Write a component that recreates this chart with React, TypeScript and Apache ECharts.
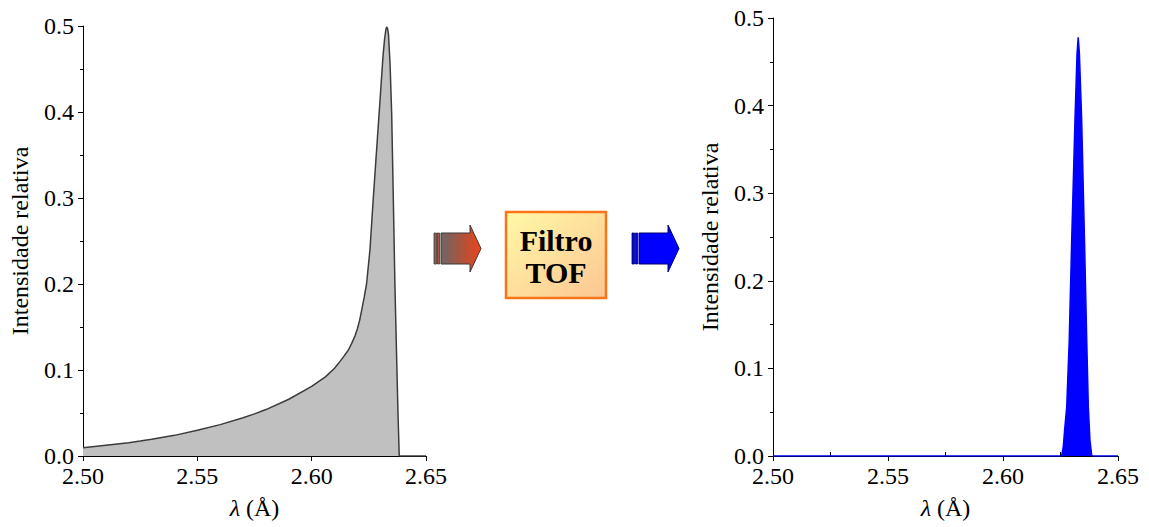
import React, { useEffect, useRef } from "react";
import * as echarts from "echarts";

// Incident spectrum (grey) — wavelength in Å and relative intensity
const lambdaIn = [
  2.5, 2.51, 2.52, 2.525, 2.53, 2.54, 2.55, 2.56, 2.57, 2.575, 2.58, 2.59, 2.6,
  2.606, 2.61, 2.6124, 2.6138, 2.616, 2.6175, 2.619, 2.62, 2.621, 2.6219, 2.623,
  2.624, 2.6255, 2.6269, 2.6285, 2.6299, 2.6312, 2.6319, 2.6324, 2.6328, 2.6332,
  2.6336, 2.6343, 2.635, 2.6357, 2.6364, 2.6372, 2.6378, 2.6383, 2.65,
];
const intensityIn = [
  0.0095, 0.0125, 0.0155, 0.0174, 0.0195, 0.024, 0.03, 0.0365, 0.0445, 0.049,
  0.054, 0.066, 0.081, 0.092, 0.102, 0.11, 0.115, 0.123, 0.131, 0.14, 0.148,
  0.158, 0.17, 0.185, 0.2, 0.24, 0.298, 0.36, 0.414, 0.465, 0.485, 0.495, 0.499,
  0.497, 0.49, 0.455, 0.397, 0.3, 0.2, 0.11, 0.045, 0.0, 0.0,
];

// Filtered spectrum (blue)
const lambdaOut = [
  2.5, 2.6255, 2.6262, 2.6268, 2.6277, 2.6288, 2.6299, 2.6313, 2.6322, 2.6327,
  2.6332, 2.6342, 2.6354, 2.6364, 2.6371, 2.6378, 2.6386, 2.65,
];
const intensityOut = [
  0.0, 0.0, 0.01, 0.03, 0.056, 0.132, 0.25, 0.384, 0.46, 0.478, 0.46, 0.384,
  0.25, 0.132, 0.056, 0.018, 0.0, 0.0,
];

const xTicks = { min: 2.5, max: 2.65, step: 0.05 };
const yTicks = { min: 0, max: 0.5, step: 0.1 };

const SERIF = '"Times New Roman", "Liberation Serif", serif';
const FS = 24;

const pairs = (xs: number[], ys: number[]) => xs.map((x, i) => [x, ys[i]]);

function xAxisFor(gridIndex: number) {
  return {
    type: "value",
    gridIndex,
    min: xTicks.min,
    max: xTicks.max,
    interval: xTicks.step,
    axisLine: { show: true, onZero: false, lineStyle: { color: "#000", width: 1 } },
    axisTick: { show: true, length: 5, lineStyle: { color: "#000" } },
    minorTick: { show: true, splitNumber: 2, length: -4, lineStyle: { color: "#000" } },
    splitLine: { show: false },
    axisLabel: {
      color: "#000",
      fontFamily: SERIF,
      fontSize: FS,
      margin: 8,
      formatter: (v: number) => v.toFixed(2),
    },
    name: "{i|λ} (Å)",
    nameLocation: "middle",
    nameGap: 40,
    nameTextStyle: {
      color: "#000",
      fontFamily: SERIF,
      fontSize: FS,
      rich: { i: { fontStyle: "italic", fontFamily: SERIF, fontSize: FS, color: "#000" } },
    },
  };
}

function yAxisFor(gridIndex: number) {
  return {
    type: "value",
    gridIndex,
    min: yTicks.min,
    max: yTicks.max,
    interval: yTicks.step,
    axisLine: { show: true, lineStyle: { color: "#000", width: 1 } },
    axisTick: { show: true, length: 5, lineStyle: { color: "#000" } },
    minorTick: { show: true, splitNumber: 2, length: 3, lineStyle: { color: "#000" } },
    splitLine: { show: false },
    axisLabel: {
      color: "#000",
      fontFamily: SERIF,
      fontSize: FS,
      margin: 9,
      formatter: (v: number) => v.toFixed(1),
    },
    name: "Intensidade relativa",
    nameLocation: "middle",
    nameGap: 51,
    nameTextStyle: { color: "#000", fontFamily: SERIF, fontSize: FS },
  };
}

// Block arrow with two thin stripes at the tail
function stripedArrow(x0: number, cy: number, fill: any, stroke: string) {
  const shaftTop = cy - 15.5;
  const shaftBot = cy + 15.5;
  const headTop = cy - 23.5;
  const headBot = cy + 23.5;
  const shaftStart = x0 + 7;
  const headStart = x0 + 36;
  const tip = x0 + 47;
  return {
    type: "group",
    children: [
      {
        type: "rect",
        shape: { x: x0, y: shaftTop, width: 2.5, height: shaftBot - shaftTop },
        style: { fill, stroke, lineWidth: 0.8 },
      },
      {
        type: "rect",
        shape: { x: x0 + 3.5, y: shaftTop, width: 2, height: shaftBot - shaftTop },
        style: { fill, stroke, lineWidth: 0.8 },
      },
      {
        type: "polygon",
        shape: {
          points: [
            [shaftStart, shaftTop],
            [headStart, shaftTop],
            [headStart, headTop],
            [tip, cy],
            [headStart, headBot],
            [headStart, shaftBot],
            [shaftStart, shaftBot],
          ],
        },
        style: { fill, stroke, lineWidth: 1 },
      },
    ],
  };
}

export default function App() {
  const ref = useRef<HTMLDivElement>(null);

  useEffect(() => {
    if (!ref.current) return;
    const chart = echarts.init(ref.current, null, { renderer: "svg" });

    const redFill = new echarts.graphic.LinearGradient(0, 0, 1, 0, [
      { offset: 0, color: "#6e6666" },
      { offset: 0.55, color: "#b0523a" },
      { offset: 1, color: "#ee4418" },
    ]);
    const boxFill = new echarts.graphic.LinearGradient(0, 0, 1, 1, [
      { offset: 0, color: "#fff9a6" },
      { offset: 1, color: "#fdc593" },
    ]);

    chart.setOption({
      animation: false,
      backgroundColor: "#fff",
      textStyle: { fontFamily: SERIF },
      grid: [
        { left: 83, top: 26, width: 343, height: 430 },
        { left: 773, top: 18, width: 345, height: 438 },
      ],
      xAxis: [xAxisFor(0), xAxisFor(1)],
      yAxis: [yAxisFor(0), yAxisFor(1)],
      series: [
        {
          type: "line",
          xAxisIndex: 0,
          yAxisIndex: 0,
          data: pairs(lambdaIn, intensityIn),
          showSymbol: false,
          lineStyle: { color: "#3c3c3c", width: 1.5 },
          areaStyle: { color: "#c0c0c0", opacity: 1 },
        },
        {
          type: "line",
          xAxisIndex: 1,
          yAxisIndex: 1,
          data: pairs(lambdaOut, intensityOut),
          showSymbol: false,
          lineStyle: { color: "#0000ff", width: 1.5 },
          areaStyle: { color: "#0000ff", opacity: 1 },
        },
      ],
      graphic: [
        stripedArrow(434, 248.5, redFill, "#3a3a3a"),
        {
          type: "rect",
          shape: { x: 506, y: 212, width: 100, height: 86 },
          style: { fill: boxFill, stroke: "#fb7418", lineWidth: 2.5 },
        },
        {
          type: "text",
          x: 556,
          y: 240,
          style: {
            text: "Filtro",
            fontFamily: SERIF,
            fontWeight: "bold",
            fontSize: 30,
            fill: "#000",
            align: "center",
            verticalAlign: "middle",
          },
        },
        {
          type: "text",
          x: 556,
          y: 272,
          style: {
            text: "TOF",
            fontFamily: SERIF,
            fontWeight: "bold",
            fontSize: 30,
            fill: "#000",
            align: "center",
            verticalAlign: "middle",
          },
        },
        stripedArrow(632, 248.5, "#0000ff", "#00006a"),
      ],
    });

    return () => chart.dispose();
  }, []);

  return (
    <div
      ref={ref}
      style={{ position: "fixed", left: 0, top: 0, width: 1149, height: 527, background: "#fff" }}
    />
  );
}
